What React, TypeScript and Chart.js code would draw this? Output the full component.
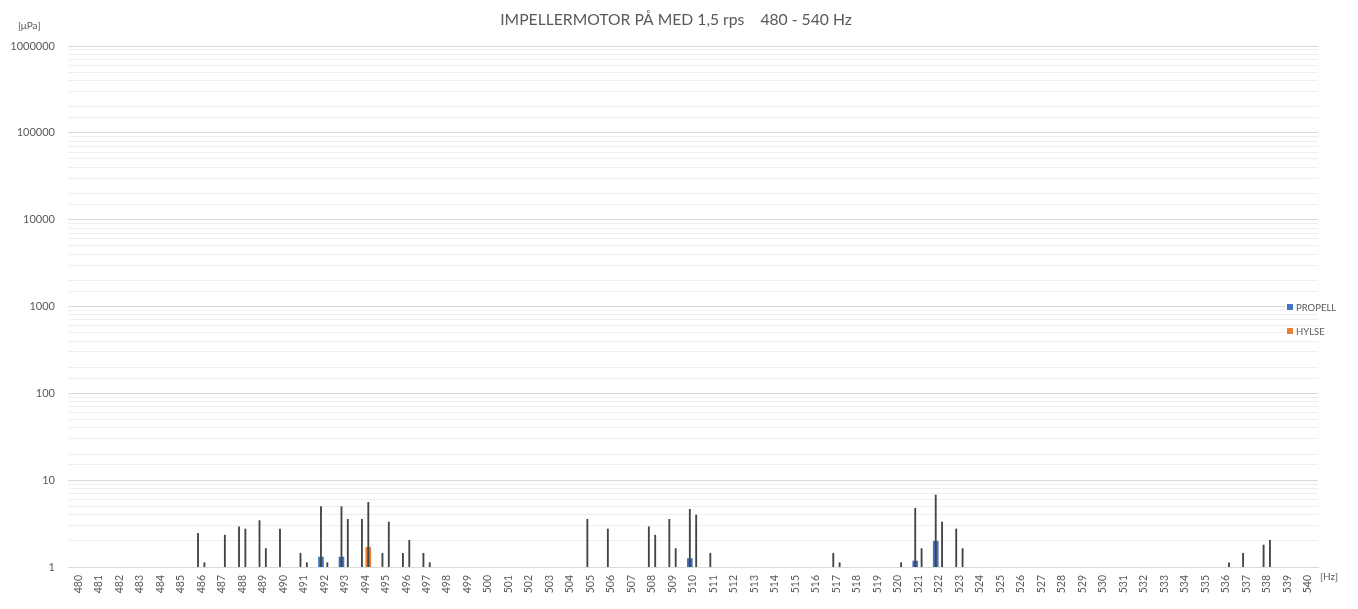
import React, { useEffect, useRef } from 'react';
import { Chart, registerables } from 'chart.js';

Chart.register(...registerables);

const TITLE = 'IMPELLERMOTOR PÅ MED 1,5 rps    480 - 540 Hz';
const Y_UNIT = '[μPa]';
const X_UNIT = '[Hz]';

const FREQUENCIES = [
  480, 481, 482, 483, 484, 485, 486, 487, 488, 489, 490, 491, 492, 493, 494, 495,
  496, 497, 498, 499, 500, 501, 502, 503, 504, 505, 506, 507, 508, 509, 510, 511,
  512, 513, 514, 515, 516, 517, 518, 519, 520, 521, 522, 523, 524, 525, 526, 527,
  528, 529, 530, 531, 532, 533, 534, 535, 536, 537, 538, 539, 540,
];
const Y_TICKS = [1, 10, 100, 1000, 10000, 100000, 1000000];

// PROPELL columns
const PROPELL_HZ = [492, 493, 510, 521, 522];
const PROPELL_VAL = [1.3, 1.3, 1.25, 1.17, 1.98];
// HYLSE columns
const HYLSE_HZ = [494];
const HYLSE_VAL = [1.69];

// PROPELL peak lines (error bars)
const PROPELL_PEAK_HZ = [486, 488, 489, 490, 491, 492, 493, 494, 495, 496, 497, 505, 506, 508, 509, 510, 511, 517, 521, 522, 523, 537, 538];
const PROPELL_PEAK_VAL = [2.44, 2.91, 3.42, 2.74, 1.44, 4.95, 4.95, 3.54, 1.44, 1.44, 1.44, 3.54, 2.74, 2.91, 3.54, 4.62, 1.44, 1.44, 4.74, 6.75, 2.74, 1.44, 1.79];
// HYLSE peak lines (error bars)
const HYLSE_PEAK_HZ = [486, 487, 488, 489, 491, 492, 493, 494, 495, 496, 497, 508, 509, 510, 517, 520, 521, 522, 523, 536, 538];
const HYLSE_PEAK_VAL = [1.12, 2.33, 2.74, 1.63, 1.12, 1.12, 3.54, 5.56, 3.3, 2.03, 1.12, 2.33, 1.63, 3.97, 1.12, 1.12, 1.63, 3.3, 1.63, 1.12, 2.03];

const SERIES_NAMES = ['PROPELL', 'HYLSE'];
const BLUE = '#4472C4';
const ORANGE = '#ED7D31';
const LINE = '#444444';
const TEXT = '#595959';
const SLOT = 0.155; // half cluster offset (Hz)

const pts = (hz: number[], val: number[], shift: number) =>
  hz.map((h, i) => ({ x: h + shift, y: val[i] }));

const isMajor = (v: number) => Y_TICKS.includes(v);

const overlay = {
  id: 'overlay',
  afterDraw(chart: any) {
    const ctx = chart.ctx as CanvasRenderingContext2D;
    ctx.save();
    ctx.fillStyle = TEXT;
    ctx.textBaseline = 'middle';
    ctx.textAlign = 'center';
    ctx.font = '15.7px Lato';
    ctx.fillText(TITLE, chart.width / 2 - 3, 20);
    ctx.font = '10px Lato';
    ctx.textAlign = 'left';
    ctx.fillText(Y_UNIT, 18, 26);
    ctx.fillText(X_UNIT, 1320, 577);
    // legend
    const colors = [BLUE, ORANGE];
    const ys = [307, 331];
    ctx.font = '9.5px Lato';
    SERIES_NAMES.forEach((name, i) => {
      ctx.fillStyle = '#ffffff';
      ctx.fillRect(1285, ys[i] - 4, 36, 8);
      ctx.fillStyle = colors[i];
      ctx.fillRect(1287, ys[i] - 3, 6, 6);
      ctx.fillStyle = TEXT;
      ctx.fillText(name, 1296, ys[i] + 0.5);
    });
    ctx.restore();
  },
};

export default function App() {
  const ref = useRef<HTMLCanvasElement>(null);
  useEffect(() => {
    if (!ref.current) return;
    Chart.defaults.font.family = 'Lato';
    const chart = new Chart(ref.current, {
      type: 'bar',
      data: {
        datasets: [
          {
            label: 'PROPELL',
            data: pts(PROPELL_HZ, PROPELL_VAL, -SLOT),
            backgroundColor: BLUE,
            barThickness: 5,
            grouped: false,
            order: 1,
          } as any,
          {
            label: 'HYLSE',
            data: pts(HYLSE_HZ, HYLSE_VAL, SLOT),
            backgroundColor: ORANGE,
            barThickness: 5,
            grouped: false,
            order: 1,
          },
          {
            label: 'PROPELL peaks',
            data: pts(PROPELL_PEAK_HZ, PROPELL_PEAK_VAL, -SLOT),
            backgroundColor: LINE,
            barThickness: 1.2,
            grouped: false,
            order: 0,
          },
          {
            label: 'HYLSE peaks',
            data: pts(HYLSE_PEAK_HZ, HYLSE_PEAK_VAL, SLOT),
            backgroundColor: LINE,
            barThickness: 1.2,
            grouped: false,
            order: 0,
          },
        ],
      },
      options: {
        animation: false,
        responsive: false,
        events: [],
        layout: { padding: { top: 46, right: 40, left: 0, bottom: 0 } },
        plugins: { legend: { display: false }, title: { display: false }, tooltip: { enabled: false } },
        scales: {
          x: {
            type: 'linear',
            min: FREQUENCIES[0] - 0.5,
            max: FREQUENCIES[FREQUENCIES.length - 1] + 0.5,
            offset: false,
            afterBuildTicks: (s: any) => {
              s.ticks = FREQUENCIES.map((v) => ({ value: v }));
            },
            afterFit: (s: any) => {
              s.height = 42;
            },
            grid: { display: false, drawTicks: false, offset: false },
            border: { display: true, color: '#d9d9d9' },
            ticks: {
              autoSkip: false,
              minRotation: 90,
              maxRotation: 90,
              padding: 8,
              color: TEXT,
              font: { size: 10.5 },
              callback: (v: any) => String(v),
            },
          },
          y: {
            type: 'logarithmic',
            min: 1,
            max: 1000000,
            afterFit: (s: any) => {
              s.width = 68;
            },
            grid: {
              drawTicks: false,
              color: (c: any) => (c.tick && isMajor(c.tick.value) ? '#d9d9d9' : '#eeeeee'),
            },
            border: { display: false },
            ticks: {
              autoSkip: false,
              padding: 13,
              color: TEXT,
              font: { size: 11 },
              callback: (v: any) => (isMajor(Number(v)) ? String(v) : ''),
            },
          },
        },
      },
      plugins: [overlay],
    });
    return () => chart.destroy();
  }, []);
  return (
    <div style={{ position: 'absolute', left: 0, top: 0, width: 1358, height: 609, background: '#fff' }}>
      <canvas ref={ref} width={1358} height={609} style={{ display: 'block' }} />
    </div>
  );
}
